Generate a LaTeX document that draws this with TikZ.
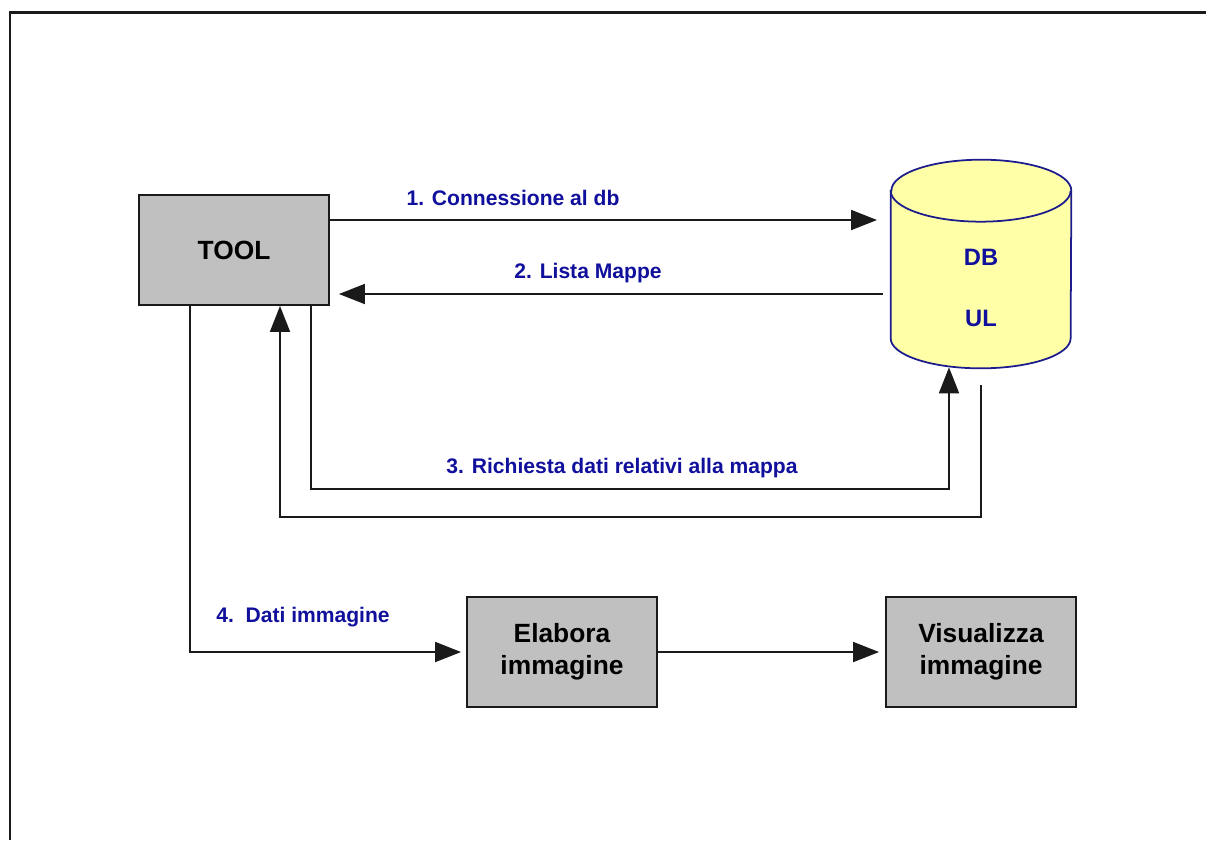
\documentclass[tikz,border=0pt]{standalone}
\usepackage{fontspec}
\setmainfont{Liberation Sans}
\usepackage{tikz}
\usepackage{xcolor}
\usetikzlibrary{arrows.meta,positioning,shapes,calc}
\definecolor{ink}{HTML}{1A1A1A}
\definecolor{boxgray}{HTML}{C0C0C0}
\definecolor{dbyellow}{HTML}{FFFFA8}
\definecolor{dbline}{HTML}{1C1C8C}
\definecolor{labelblue}{HTML}{10109C}
\tikzset{
  procbox/.style={
    draw=ink, fill=boxgray, line width=1.1pt,
    minimum width=3.8cm, minimum height=2.2cm,
    align=center, font=\bfseries\fontsize{15}{18}\selectfont
  },
  dbbody/.style={
    inner sep=0pt, minimum width=3.6cm, minimum height=4.16cm
  },
  dbedge/.style={draw=dbline, line width=1pt},
  dbname/.style={
    align=center, text=labelblue, font=\bfseries\fontsize{13.5}{16}\selectfont
  },
  steplabel/.style={
    anchor=base, text=labelblue, font=\bfseries\fontsize{12}{14}\selectfont
  },
  flow/.style={draw=ink, line width=1.1pt, -{Triangle[length=0.52cm,width=0.4cm]}}
}
\begin{document}
\begin{tikzpicture}[x=0.02cm,y=-0.02cm,>=Latex]
  \useasboundingbox (0,0) rectangle (1206,840);
  % page frame, only the top and left edges fall inside
  \draw[ink,line width=0.06cm] (10,840) |- (1206,12);

  \node[procbox] (tool) at (234,250) {TOOL};
  \node[dbbody] (db) at (981,264) {};
  % cylinder drawn on the db node
  \draw[dbedge,fill=dbyellow] ($(db.north west)+(0,31)$) -- ($(db.south west)+(0,-30)$)
    arc[start angle=180,end angle=360,x radius=1.8cm,y radius=0.6cm]
    -- ($(db.north east)+(0,31)$)
    arc[start angle=0,end angle=180,x radius=1.8cm,y radius=0.62cm] -- cycle;
  \draw[dbedge] ($(db.north west)+(0,31)$)
    arc[start angle=180,end angle=360,x radius=1.8cm,y radius=0.62cm];
  \node[dbname] (dbul) at (981,288) {DB\\[0.66cm]UL};
  \node[procbox] (elab) at (562,652) {Elabora\\immagine};
  \node[procbox] (visu) at (981,652) {Visualizza\\immagine};

  % tool <-> db
  \coordinate (c1) at (877,220);
  \coordinate (c2) at (883,294);
  \draw[flow] (tool.east |- c1) -- (c1);
  \draw[flow] (c2) -- ($(tool.east |- c2)+(9,0)$);
  \node[steplabel] (l1) at (513,205) {1. Connessione al db};
  \node[steplabel] (l2) at (588,278) {2. Lista Mappe};

  % request loop under the boxes
  \coordinate (r3) at (949,489);
  \coordinate (r4) at (280,517);
  \draw[flow] ($(tool.south)+(77,0)$) |- (r3) -- ($(r3 |- db.south)+(0,-1)$);
  \draw[flow] ($(db.south)+(0,17)$) |- (r4) -- (r4 |- tool.south);
  \node[steplabel] (l3) at (622,473) {3. Richiesta dati relativi alla mappa};

  % image data down to the processing chain
  \draw[flow] ($(tool.south)+(-44,0)$) |- ($(elab.west)+(-5,0)$);
  \draw[flow] (elab.east) -- ($(visu.west)+(-6,0)$);
  \node[steplabel] (l4) at (303,622) {4.~~Dati immagine};
\end{tikzpicture}
\end{document}
